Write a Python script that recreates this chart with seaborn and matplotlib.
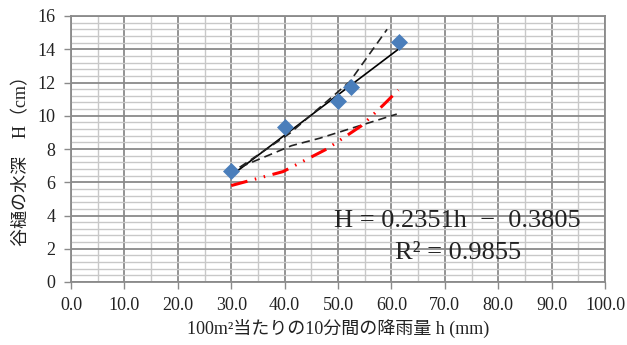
import numpy as np
import pandas as pd
import matplotlib
matplotlib.use("Agg")
import matplotlib.pyplot as plt
import seaborn as sns
from matplotlib.ticker import MultipleLocator, FormatStrFormatter

# === Data ===
rain_h = [30.0, 40.0, 50.0, 52.4, 61.5]
depth_H = [6.7, 9.3, 10.9, 11.7, 14.45]

fit_h = [30.0, 61.5]
fit_H = [6.4, 14.05]

steep_h = [31.6, 41.0, 52.2, 59.2]
steep_H = [6.9, 8.95, 12.05, 15.2]

shallow_h = [31.6, 41.3, 46.6, 61.0]
shallow_H = [6.9, 8.2, 8.65, 10.1]

red_h = [30.0, 39.7, 47.9, 54.4, 58.5, 61.3]
red_H = [5.8, 6.64, 8.0, 9.4, 10.65, 11.55]

eq_text = "H = 0.2351h  −  0.3805"
r2_text = "R² = 0.9855"
xlabel = "100m²当たりの10分間の降雨量 h (mm)"
ylabel = "谷樋の水深　H（cm）"

# === Style ===
sns.set_style("white")
plt.rcParams['font.family'] = ['Liberation Serif', 'Noto Sans CJK JP', 'DejaVu Sans']

fig, ax = plt.subplots(figsize=(6.27, 3.45), dpi=100)
fig.subplots_adjust(left=71/627, right=605/627, bottom=1-282/345, top=1-16/345)

# grid
ax.xaxis.set_major_locator(MultipleLocator(10))
ax.xaxis.set_minor_locator(MultipleLocator(5))
ax.yaxis.set_major_locator(MultipleLocator(2))
ax.yaxis.set_minor_locator(MultipleLocator(0.4))
ax.grid(which="minor", color="#c8c8c8", lw=1.0)
ax.grid(which="major", color="#8a8a8a", lw=1.3)
ax.set_axisbelow(True)

# fitted / reference lines
sns.lineplot(x=fit_h, y=fit_H, ax=ax, color="black", lw=1.2, sort=False, zorder=3)
sns.lineplot(x=steep_h, y=steep_H, ax=ax, color="#222222", lw=1.2, sort=False,
             linestyle=(0, (5, 3)), zorder=3)
sns.lineplot(x=shallow_h, y=shallow_H, ax=ax, color="#222222", lw=1.2, sort=False,
             linestyle=(0, (5, 3)), zorder=3)
sns.lineplot(x=red_h, y=red_H, ax=ax, color="red", lw=2.2, sort=False,
             linestyle=(0, (5.5, 2.5, 0.5, 2.5, 0.5, 2.5)), zorder=3)

# measured points
sns.scatterplot(x=rain_h, y=depth_H, ax=ax, marker="D", s=75, color="#4a7ebb",
                edgecolor="#4a7ebb", linewidth=0, zorder=4)

ax.set_xlim(0, 100)
ax.set_ylim(0, 16)
ax.xaxis.set_major_formatter(FormatStrFormatter("%.1f"))
ax.yaxis.set_major_formatter(FormatStrFormatter("%d"))
ax.tick_params(which="major", direction="out", length=5, width=1, color="#8a8a8a",
               labelsize=13, pad=6, bottom=True, left=True, labelcolor="#222222")
ax.tick_params(which="minor", length=0)
for s in ax.spines.values():
    s.set_color("#8a8a8a")
    s.set_linewidth(1.3)

ax.set_xlabel(xlabel, fontsize=13, labelpad=3, color="#222222")
ax.set_ylabel(ylabel, fontsize=13, labelpad=6, color="#222222")
ax.yaxis.set_label_coords(-0.077, 0.47)

ax.text(0.724, 0.23, eq_text, transform=ax.transAxes, ha="center", va="center",
        fontsize=19, color="#222222")
ax.text(0.724, 0.11, r2_text, transform=ax.transAxes, ha="center", va="center",
        fontsize=19, color="#222222")

plt.savefig("out.png", dpi=100)
